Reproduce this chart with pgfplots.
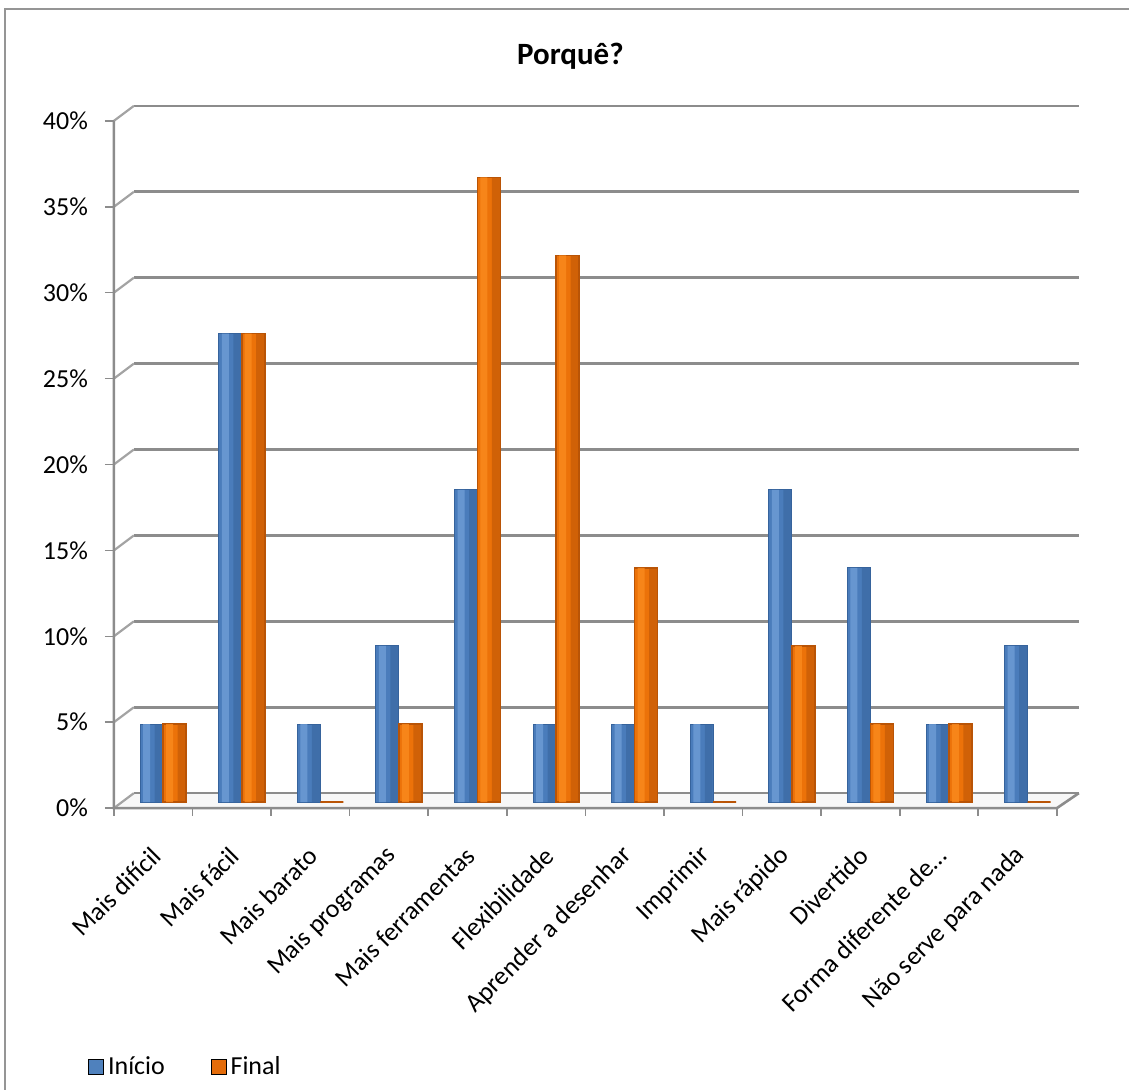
\documentclass[border=0pt]{standalone}
\usepackage{fontspec}
\setmainfont{Carlito}
\usepackage{pgfplots}
\pgfplotsset{compat=1.18}

\definecolor{cInicio}{HTML}{4F81BD}
\definecolor{cInicioBar}{HTML}{4A7CBB}
\definecolor{cInicioDark}{HTML}{36639C}
\definecolor{cInicioLight}{HTML}{6F9DD6}
\definecolor{cFinal}{HTML}{E46C0A}
\definecolor{cFinalBar}{HTML}{EC7209}
\definecolor{cFinalDark}{HTML}{B95406}
\definecolor{cFinalLight}{HTML}{FA8A1E}
\definecolor{cGrid}{HTML}{8C8C8C}
\definecolor{cFrame}{HTML}{959595}

% values of both series, one row per category
\pgfplotstableread{
idx inicio final
0   4.545  4.545
1   27.27  27.27
2   4.545  0
3   9.091  4.545
4   18.18  36.36
5   4.545  31.82
6   4.545  13.64
7   4.545  0
8   18.18  9.091
9   13.64  4.545
10  4.545  4.545
11  9.091  0
}\porque

\begin{document}
\begin{tikzpicture}[x=0.5pt,y=0.5pt]
% page extent and chart frame
\path (0,0) rectangle (1130,1091);
\draw[cFrame, line width=1.2pt] (5,0) -- (5,1082) -- (1130,1082);
% title
\node[font=\fontsize{15.5}{18}\selectfont\bfseries] at (571,1035) {Porquê?};
\coordinate (plotorigin) at (124,288);

\begin{axis}[
  at={(plotorigin)}, anchor=south west,
  scale only axis, width=472pt, height=344pt,
  xmin=-0.5, xmax=11.5, ymin=0, ymax=40,
  ybar=0pt, bar width=11.5pt,
  axis line style={draw=none}, tick style={draw=none},
  clip=false,
  ytick={0,5,...,40},
  yticklabels={0\%,5\%,10\%,15\%,20\%,25\%,30\%,35\%,40\%},
  yticklabel style={font=\fontsize{13}{15}\selectfont, anchor=east, xshift=-14.5pt, yshift=-3pt},
  xtick={0,...,11},
  xticklabels={Mais difícil,Mais fácil,Mais barato,Mais programas,Mais ferramentas,Flexibilidade,Aprender a desenhar,Imprimir,Mais rápido,Divertido,Forma diferente de…,Não serve para nada},
  xticklabel style={font=\fontsize{13}{15}\selectfont, yshift=-18pt, xshift=-1pt, rotate=45, anchor=east},
  legend image code/.code={\fill[#1] (0pt,-3.75pt) rectangle (7.5pt,3.75pt);},
  legend style={at={(-0.0445,-0.385)}, anchor=west, draw=none, fill=none,
    legend columns=2, font=\fontsize{13}{15}\selectfont,
    /tikz/every even column/.append style={column sep=21pt}},
]
% floor of the plot area
\fill[gray!6] ([shift={(-5pt,-3pt)}]axis cs:-0.5,0) -- ([shift={(-5pt,-3pt)}]axis cs:11.5,0)
  -- ([shift={(6pt,4.5pt)}]axis cs:11.5,0) -- ([shift={(5pt,4.5pt)}]axis cs:-0.5,0) -- cycle;
% back-wall gridlines and side-wall diagonals
\pgfplotsinvokeforeach{0,5,10,15,20,25,30,35,40}{
  \draw[cGrid, line width=1.3pt] ([shift={(5pt,4.5pt)}]axis cs:-0.5,#1) -- ([shift={(6pt,4.5pt)}]axis cs:11.5,#1);
  \draw[cGrid!80, line width=1.1pt] ([shift={(-5pt,-3pt)}]axis cs:-0.5,#1) -- ([shift={(5pt,4.5pt)}]axis cs:-0.5,#1);
  \draw[cGrid, line width=0.8pt] ([shift={(-9.5pt,-3pt)}]axis cs:-0.5,#1) -- ([shift={(-5pt,-3pt)}]axis cs:-0.5,#1);
}
% front edges
\draw[cGrid, line width=1.3pt] ([shift={(-5pt,-3pt)}]axis cs:-0.5,40) -- ([shift={(-5pt,-3pt)}]axis cs:-0.5,0)
  -- ([shift={(-5pt,-3pt)}]axis cs:11.5,0) -- ([shift={(6pt,4.5pt)}]axis cs:11.5,0);
\pgfplotsinvokeforeach{-0.5,0.5,1.5,2.5,3.5,4.5,5.5,6.5,7.5,8.5,9.5,10.5,11.5}{
  \draw[cGrid, line width=0.8pt] ([shift={(-5pt,-3pt)}]axis cs:#1,0) -- ([shift={(-5pt,-7pt)}]axis cs:#1,0);
}

\addlegendimage{fill=cInicio}
\addlegendentry{Início}
\addlegendimage{fill=cFinal}
\addlegendentry{Final}

% Início: column body, darker right side, light reflection band
\addplot[forget plot, bar shift=-5.75pt, draw=cInicioDark, line width=0.5pt, fill=cInicioBar]
  table[x=idx, y=inicio] {\porque};
\addplot[forget plot, bar shift=-2.25pt, bar width=4pt, draw=none, fill=cInicioDark, fill opacity=0.55]
  table[x=idx, y=inicio] {\porque};
\addplot[forget plot, bar shift=-8.25pt, bar width=3.5pt, draw=none, fill=cInicioLight, fill opacity=0.8]
  table[x=idx, y=inicio] {\porque};
% Final: column body, darker right side, light reflection band
\addplot[forget plot, bar shift=5.75pt, draw=cFinalDark, line width=0.8pt, fill=cFinalBar]
  table[x=idx, y=final] {\porque};
\addplot[forget plot, bar shift=9.25pt, bar width=4pt, draw=none, fill=cFinalDark, fill opacity=0.55]
  table[x=idx, y=final] {\porque};
\addplot[forget plot, bar shift=3.25pt, bar width=3.5pt, draw=none, fill=cFinalLight, fill opacity=0.8]
  table[x=idx, y=final] {\porque};
\end{axis}
\end{tikzpicture}
\end{document}
